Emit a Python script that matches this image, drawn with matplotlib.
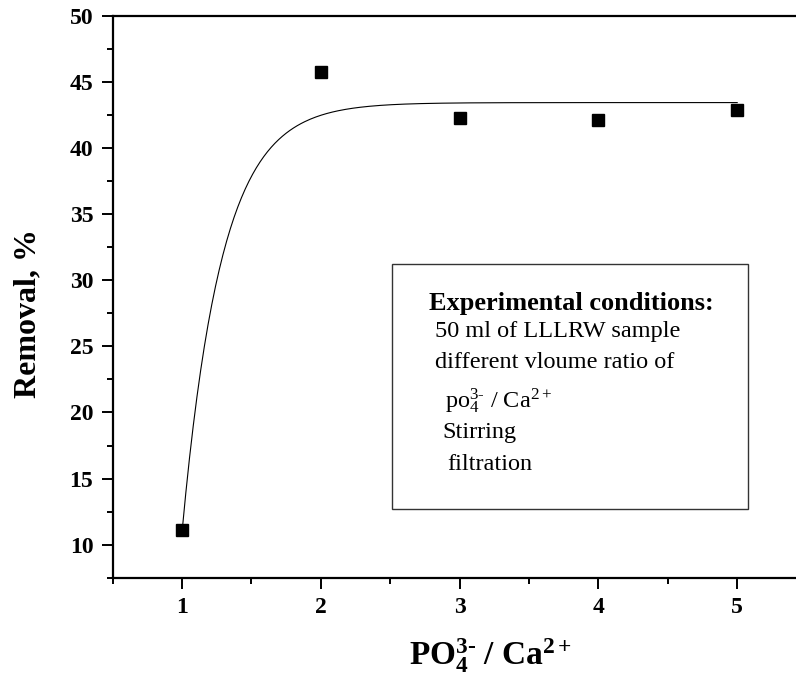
import matplotlib
matplotlib.use('Agg')
import matplotlib.pyplot as plt
import numpy as np
from matplotlib.patches import Rectangle
from matplotlib.ticker import MultipleLocator

plt.rcParams['font.family'] = ['Liberation Serif', 'DejaVu Serif']
plt.rcParams['mathtext.fontset'] = 'custom'
plt.rcParams['mathtext.rm'] = 'Liberation Serif'
plt.rcParams['mathtext.bf'] = 'Liberation Serif:bold'
plt.rcParams['mathtext.it'] = 'Liberation Serif:italic'

# measured points
ratio = [1, 2, 3, 4, 5]
removal = [11.1, 45.8, 42.3, 42.1, 42.9]

# exponential fit: y = y_max - amp * exp(-(x - 1) / t)
fit_ymax = 43.45
fit_amp = 32.45
fit_t = 0.284

fig = plt.figure(figsize=(7.96, 6.79), dpi=100)
ax = fig.add_axes([0.1416, 0.1492, 0.8717, 0.8272])

xs = np.linspace(1, 5, 300)
ax.plot(xs, fit_ymax - fit_amp * np.exp(-(xs - 1) / fit_t), color='black', lw=0.8)
ax.plot(ratio, removal, 's', color='black', ms=9)

ax.set_xlim(0.5, 5.5)
ax.set_ylim(7.5, 50)
ax.xaxis.set_major_locator(MultipleLocator(1))
ax.xaxis.set_minor_locator(MultipleLocator(0.5))
ax.yaxis.set_major_locator(MultipleLocator(5))
ax.yaxis.set_minor_locator(MultipleLocator(2.5))
ax.set_yticks([10, 15, 20, 25, 30, 35, 40, 45, 50])

for s in ['left', 'top', 'bottom', 'right']:
    ax.spines[s].set_linewidth(1.6)
ax.tick_params(which='both', direction='out', width=1.4, top=False, right=False)
ax.tick_params(which='major', length=8, pad=6, labelsize=17)
ax.tick_params(which='minor', length=4.5)
for lbl in ax.get_xticklabels() + ax.get_yticklabels():
    lbl.set_fontweight('bold')

ax.set_ylabel('Removal, %', fontsize=23, fontweight='bold')
ax.yaxis.set_label_coords(-0.102, 0.47)
fig.text(0.616, 0.02, '$\\mathbf{PO_4^{3\u2010}\\ /\\ Ca^{2+}}$', fontsize=24,
         ha='center', va='baseline')

# conditions box
ax.add_patch(Rectangle((0.4025, 0.1223), 0.5131, 0.4362, transform=ax.transAxes,
                       fill=False, edgecolor='#333333', lw=1.0))
ax.text(0.661, 0.4766, 'Experimental conditions:', transform=ax.transAxes,
        fontsize=19, fontweight='bold', ha='center', va='baseline')
ax.text(0.4649, 0.4285, '50 ml of LLLRW sample', transform=ax.transAxes,
        fontsize=17.5, va='baseline')
ax.text(0.4649, 0.3733, 'different vloume ratio of', transform=ax.transAxes,
        fontsize=17.5, va='baseline')
ax.text(0.479, 0.302, 'po$_4^{3\u2010}$ / Ca$^{2+}$', transform=ax.transAxes,
        fontsize=17.5, va='baseline')
ax.text(0.4745, 0.2493, 'Stirring', transform=ax.transAxes,
        fontsize=17.5, va='baseline')
ax.text(0.4817, 0.1923, 'filtration', transform=ax.transAxes,
        fontsize=17.5, va='baseline')

fig.savefig('out.png', dpi=100)
